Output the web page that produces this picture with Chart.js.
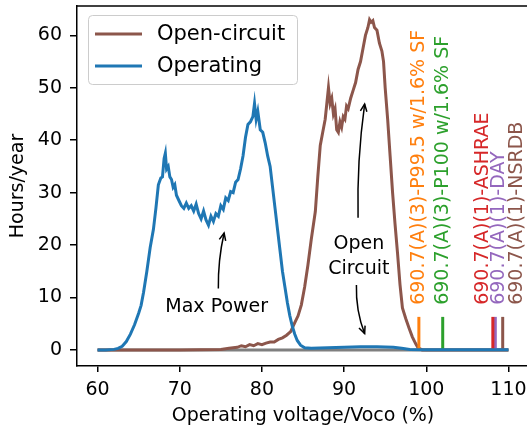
<!DOCTYPE html>
<html>
<head>
<meta charset="utf-8">
<script src="https://cdn.jsdelivr.net/npm/chart.js@4.4.1/dist/chart.umd.min.js"></script>
<style>
  html, body { margin: 0; padding: 0; overflow: hidden; background: #fff; }
  #wrap { width: 530px; height: 430px; }
</style>
</head>
<body>
<div id="wrap"><canvas id="chart" width="530" height="430"></canvas></div>
<script>
// operating (max power) voltage distribution
const opX = [60, 61, 62, 62.5, 63, 63.5, 64, 64.5, 65, 65.3, 65.6, 66, 66.4, 66.8, 67.1, 67.4, 67.7, 67.9, 68.1, 68.25,
  68.4, 68.6, 68.8, 69.0, 69.2, 69.4, 69.6, 69.9, 70.2, 70.5, 70.8, 71.1, 71.4, 71.7, 72.0, 72.3, 72.6, 72.9, 73.2, 73.5,
  73.8, 74.1, 74.4, 74.7, 75.0, 75.3, 75.6, 75.9, 76.2, 76.5, 76.8, 77.1, 77.4, 77.7, 78.0, 78.3, 78.6, 78.9, 79.1, 79.3,
  79.5, 79.8, 80.1, 80.4, 80.7, 81.0, 81.3, 81.6, 81.9, 82.2, 82.5, 82.8, 83.1, 83.4, 83.7, 84.0, 84.3, 84.7, 85.2, 86,
  88, 90, 92, 94, 96, 97, 98, 100, 105, 110];
const opY = [0, 0, 0.1, 0.3, 0.7, 1.6, 3, 4.8, 7, 8.5, 11, 15, 19.5, 23, 27, 31.5, 32.8, 33, 36.5, 37.5,
  34.5, 35, 33, 32.5, 31, 31.5, 29.5, 28.5, 27.5, 27, 28, 27, 27.5, 26.5, 27.8, 26, 25, 26.5, 24.8, 23.8,
  25.5, 24.5, 26, 25.5, 27.5, 26.8, 29, 28.5, 30.2, 30, 32, 32.5, 34.5, 37, 40.5, 43, 43.5, 44.5, 47, 44,
  45.5, 42, 41.5, 39.5, 37, 35, 31, 27, 23, 19, 15, 12, 9, 6.5, 4.5, 3, 1.8, 0.9, 0.4, 0.3,
  0.4, 0.5, 0.6, 0.6, 0.5, 0.3, 0.1, 0.05, 0.05, 0.05];

// open-circuit voltage distribution
const ocX = [60, 70, 75, 76, 77, 77.5, 78, 78.5, 79, 79.5, 80, 80.5, 81, 81.5, 82, 82.5, 83, 83.5, 84, 84.4,
  84.8, 85.2, 85.6, 86, 86.5, 86.8, 87.1, 87.4, 87.7, 87.9, 88.1, 88.3, 88.5, 88.7, 88.9, 89.1, 89.3, 89.5, 89.7, 89.9,
  90.1, 90.3, 90.5, 90.8, 91.1, 91.4, 91.7, 92.0, 92.3, 92.6, 92.9, 93.1, 93.3, 93.5, 93.7, 94.0, 94.3, 94.6, 94.8, 95.0,
  95.3, 95.6, 95.9, 96.2, 96.5, 96.8, 97.1, 97.5, 97.9, 98.3, 98.7, 99.0, 99.5, 110];
const ocY = [0, 0, 0.1, 0.3, 0.5, 0.8, 0.6, 1, 0.8, 1.2, 1, 1.3, 1.5, 1.5, 2, 2.3, 2.8, 3.5, 5.2, 6.5,
  8.6, 12, 16.2, 21, 26.4, 33, 39, 41.5, 44, 47, 50, 47, 48, 45, 46, 42, 41.5, 43.5, 42.5, 44.5,
  44, 46.5, 46, 48, 49.5, 51, 53.5, 55, 57.5, 60, 61.5, 63, 62.5, 62.8, 61.5, 61, 58.5, 57, 55, 50,
  44, 37, 30, 24, 18.5, 12.5, 8, 6, 4.2, 2.5, 1.2, 0.4, 0, 0];

// zero reference line
const baseX = [60, 110];
const baseY = [0, 0];

// 690.7 limit markers
const limitNames = ['690.7(A)(3)-P99.5 w/1.6% SF', '690.7(A)(3)-P100 w/1.6% SF',
  '690.7(A)(1)-ASHRAE', '690.7(A)(1)-DAY', '690.7(A)(1)-NSRDB'];
const limitX = [99.1, 102.0, 108.1, 108.4, 109.3];
const limitTop = 6.3;
const limitColors = ['#ff7f0e', '#2ca02c', '#d62728', '#9467bd', '#8c564b'];

const xTicks = [60, 70, 80, 90, 100, 110];
const yTicks = [0, 10, 20, 30, 40, 50, 60];

const FONT = '"DejaVu Sans", sans-serif';
const BLUE = '#1f77b4';
const BROWN = '#8c564b';

function pts(xs, ys) {
    return xs.map((v, i) => ({ x: v, y: ys[i] }));
}

const datasets = [
    { label: 'Operating', data: pts(opX, opY), borderColor: BLUE, borderWidth: 3, order: 0 },
    { label: 'Open-circuit', data: pts(ocX, ocY), borderColor: BROWN, borderWidth: 3, order: 2 },
    { label: 'zero', data: pts(baseX, baseY), borderColor: '#7f7f7f', borderWidth: 3, order: 3 }
];
limitX.forEach((v, i) => {
    datasets.push({
        label: limitNames[i],
        data: [{ x: v, y: 0 }, { x: v, y: limitTop }],
        borderColor: limitColors[i],
        borderWidth: 3,
        order: 1
    });
});

function arrow(ctx, x1, y1, x2, y2, bend) {
    const mx = (x1 + x2) / 2, my = (y1 + y2) / 2;
    const cx = mx - (y2 - y1) * bend, cy = my + (x2 - x1) * bend;
    ctx.beginPath();
    ctx.moveTo(x1, y1);
    ctx.quadraticCurveTo(cx, cy, x2, y2);
    ctx.stroke();
    const ang = Math.atan2(y2 - cy, x2 - cx);
    const L = 8, w = 0.42;
    ctx.beginPath();
    ctx.moveTo(x2 - L * Math.cos(ang - w), y2 - L * Math.sin(ang - w));
    ctx.lineTo(x2, y2);
    ctx.lineTo(x2 - L * Math.cos(ang + w), y2 - L * Math.sin(ang + w));
    ctx.stroke();
}

function roundRect(ctx, x, y, w, h, r) {
    ctx.beginPath();
    ctx.moveTo(x + r, y);
    ctx.arcTo(x + w, y, x + w, y + h, r);
    ctx.arcTo(x + w, y + h, x, y + h, r);
    ctx.arcTo(x, y + h, x, y, r);
    ctx.arcTo(x, y, x + w, y, r);
    ctx.closePath();
}

const decorations = {
    id: 'decorations',
    afterDatasetsDraw(chart) {
        const { ctx, chartArea, scales } = chart;
        const px = v => scales.x.getPixelForValue(v);
        const py = v => scales.y.getPixelForValue(v);
        ctx.save();

        // top spine
        ctx.strokeStyle = '#000';
        ctx.lineWidth = 1.5;
        ctx.beginPath();
        ctx.moveTo(chartArea.left, chartArea.top);
        ctx.lineTo(chartArea.right + 2, chartArea.top);
        ctx.stroke();

        // rotated limit labels
        const labelX = [99.1, 102.0, 106.9, 108.9, 111.1];
        ctx.font = '19px ' + FONT;
        ctx.textAlign = 'left';
        ctx.textBaseline = 'middle';
        limitNames.forEach((t, i) => {
            ctx.save();
            ctx.translate(px(labelX[i]), py(8.6));
            ctx.rotate(-Math.PI / 2);
            ctx.fillStyle = limitColors[i];
            ctx.fillText(t, 0, 0);
            ctx.restore();
        });

        // annotations
        ctx.fillStyle = '#000';
        ctx.textAlign = 'center';
        ctx.fillText('Max Power', px(74.5), py(8.2));
        ctx.fillText('Open', px(91.8), py(20.2));
        ctx.fillText('Circuit', px(91.8), py(15.4));
        ctx.strokeStyle = '#000';
        ctx.lineWidth = 1.5;
        arrow(ctx, px(74.7), py(11.7), px(75.4), py(22.3), -0.06);
        arrow(ctx, px(91.7), py(25.2), px(92.5), py(46.9), -0.04);
        arrow(ctx, px(91.5), py(12.4), px(92.5), py(3.1), 0.1);

        // legend
        ctx.fillStyle = 'rgba(255,255,255,0.8)';
        ctx.strokeStyle = '#cccccc';
        ctx.lineWidth = 1;
        roundRect(ctx, 88.5, 15.5, 209, 69, 4);
        ctx.fill();
        ctx.stroke();
        ctx.lineWidth = 3;
        [[BROWN, 'Open-circuit', 34], [BLUE, 'Operating', 66]].forEach(([c, t, yy]) => {
            ctx.strokeStyle = c;
            ctx.beginPath();
            ctx.moveTo(95, yy);
            ctx.lineTo(142, yy);
            ctx.stroke();
            ctx.fillStyle = '#000';
            ctx.font = '21px ' + FONT;
            ctx.textAlign = 'left';
            ctx.fillText(t, 157, yy + 1);
        });
        ctx.restore();
    }
};

new Chart(document.getElementById('chart'), {
    type: 'line',
    data: { datasets },
    plugins: [decorations],
    options: {
        responsive: false,
        animation: false,
        layout: { padding: { left: 0, right: 1, top: 6, bottom: 0 } },
        elements: { point: { radius: 0 }, line: { tension: 0 } },
        plugins: { legend: { display: false }, tooltip: { enabled: false } },
        scales: {
            x: {
                type: 'linear',
                min: 57.5,
                max: 112.5,
                afterBuildTicks: axis => { axis.ticks = xTicks.map(v => ({ value: v })); },
                afterFit: axis => {
                    axis.height = 64;
                    axis.paddingLeft = 0;
                    axis.paddingRight = 0;
                },
                grid: { drawOnChartArea: false, drawTicks: true, tickLength: 6, color: '#000', lineWidth: 1.5 },
                border: { display: true, color: '#000', width: 1.5 },
                ticks: { color: '#000', font: { family: FONT, size: 19 }, padding: 7, maxRotation: 0 },
                title: { display: true, text: 'Operating voltage/Voco (%)', color: '#000',
                    font: { family: FONT, size: 19 }, padding: { top: 0, bottom: 3 } }
            },
            y: {
                type: 'linear',
                min: -3.07,
                max: 65.6,
                afterBuildTicks: axis => { axis.ticks = yTicks.map(v => ({ value: v })); },
                afterFit: axis => {
                    axis.width = 77;
                    axis.paddingTop = 0;
                    axis.paddingBottom = 0;
                },
                grid: { drawOnChartArea: false, drawTicks: true, tickLength: 7, color: '#000', lineWidth: 1.5 },
                border: { display: true, color: '#000', width: 1.5 },
                ticks: { color: '#000', font: { family: FONT, size: 19 }, padding: 8 },
                title: { display: true, text: 'Hours/year', color: '#000',
                    font: { family: FONT, size: 19 }, padding: { top: 7, bottom: 0 } }
            }
        }
    }
});
</script>
</body>
</html>
